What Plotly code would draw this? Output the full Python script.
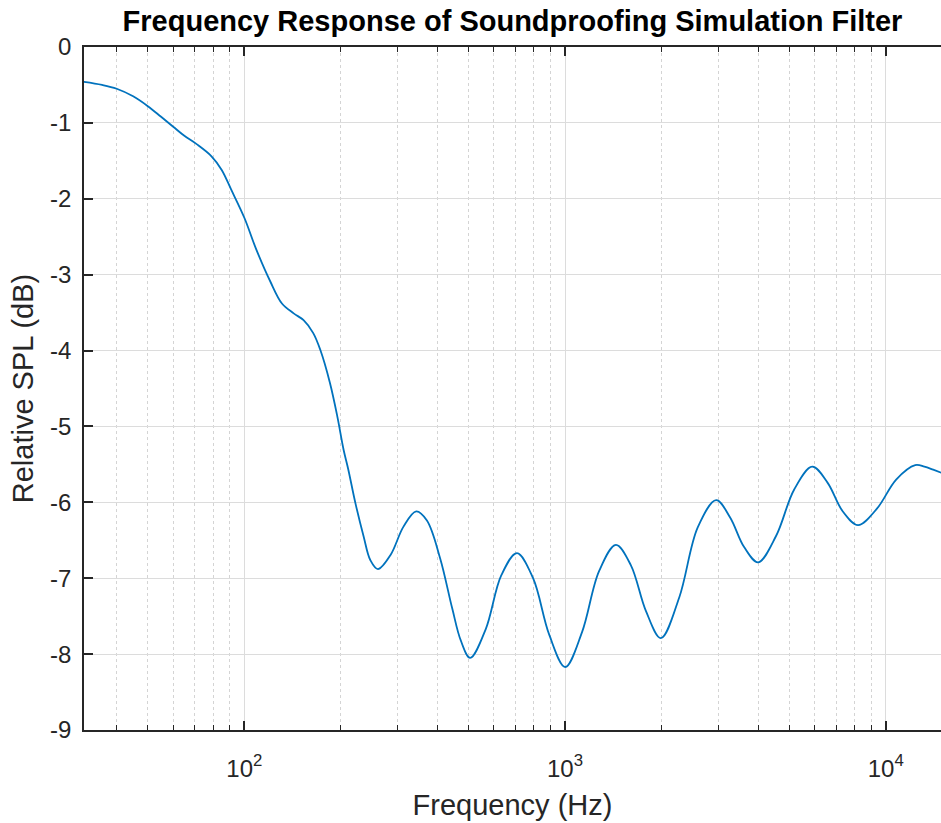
import plotly.graph_objects as go

# Frequency (Hz) and relative SPL (dB)
freq_hz = [31.6, 36, 40, 45, 50, 55, 60, 65, 71, 79, 85, 91, 100,
           109, 120.5, 131, 142.5, 153, 164, 172.5, 185, 195, 204, 211, 222,
           235.5, 247, 261, 286, 313.5, 343.5, 371, 408, 445, 473, 506, 566,
           633, 708, 795, 892, 1001, 1130, 1276, 1441, 1605, 1787, 1990, 2272,
           2593, 2960, 3272, 3618, 4000, 4554, 5184, 5900, 6584, 7349, 8200,
           9402, 10780, 12360, 13200, 14060, 14900]
spl_db = [-0.46, -0.50, -0.55, -0.65, -0.78, -0.92, -1.05, -1.17, -1.28, -1.44,
          -1.62, -1.88, -2.25, -2.67, -3.09, -3.38, -3.51, -3.60, -3.77, -3.99,
          -4.43, -4.87, -5.31, -5.57, -6.01, -6.45, -6.76, -6.88, -6.69, -6.32,
          -6.12, -6.24, -6.74, -7.40, -7.82, -8.05, -7.67, -6.96, -6.67, -7.00,
          -7.74, -8.17, -7.71, -6.91, -6.56, -6.83, -7.43, -7.79, -7.25, -6.33,
          -5.97, -6.20, -6.59, -6.79, -6.44, -5.83, -5.53, -5.74, -6.12, -6.30,
          -6.08, -5.70, -5.51, -5.53, -5.57, -5.61]

y_ticks = [0, -1, -2, -3, -4, -5, -6, -7, -8, -9]
y_ticktext = ["0", "-1", "-2", "-3", "-4", "-5", "-6", "-7", "-8", "-9"]
x_major = [100, 1000, 10000]
x_major_text = ["10<sup>2</sup>", "10<sup>3</sup>", "10<sup>4</sup>"]
x_minor = [40, 50, 60, 70, 80, 90, 200, 300, 400, 500, 600, 700, 800, 900,
           2000, 3000, 4000, 5000, 6000, 7000, 8000, 9000]

FONT = "Liberation Sans, Arial, Helvetica, sans-serif"
AX = "#262626"

fig = go.Figure()
fig.add_trace(go.Scatter(
    x=freq_hz, y=spl_db, mode="lines",
    line=dict(color="#0072BD", width=1.8, shape="spline", smoothing=1.0),
    showlegend=False, hoverinfo="skip"))

fig.update_layout(
    width=941, height=823,
    margin=dict(l=84, r=0, t=47, b=93),
    paper_bgcolor="white", plot_bgcolor="white",
    font=dict(family=FONT, color=AX, size=24),
    title=dict(text="<b>Frequency Response of Soundproofing Simulation Filter</b>",
               x=0.5, xref="paper", xanchor="center",
               y=1 - 21 / 823, yref="container", yanchor="middle",
               font=dict(family=FONT, size=29, color="#000000")),
)

fig.update_xaxes(
    type="log", range=[1.5, 4.1724],
    tickmode="array", tickvals=x_major, ticktext=x_major_text,
    ticks="inside", ticklen=9, tickwidth=1.5, tickcolor=AX,
    showline=True, linecolor=AX, linewidth=1.5, mirror="allticks",
    showgrid=True, gridcolor="#dcdcdc", gridwidth=1,
    zeroline=False,
    ticklabelstandoff=16,
    tickfont=dict(size=24, color=AX),
    minor=dict(tickmode="array", tickvals=x_minor, ticks="inside",
               ticklen=5, tickwidth=1.2, tickcolor=AX,
               showgrid=True, gridcolor="#d4d4d4", griddash="dot", gridwidth=1),
    title=dict(text="Frequency (Hz)", font=dict(size=29, color=AX), standoff=14),
)

fig.update_yaxes(
    range=[-9, 0],
    tickmode="array", tickvals=y_ticks, ticktext=y_ticktext,
    ticks="inside", ticklen=9, tickwidth=1.5, tickcolor=AX,
    showline=True, linecolor=AX, linewidth=1.5, mirror=False,
    showgrid=True, gridcolor="#dcdcdc", gridwidth=1,
    zeroline=False,
    ticklabelstandoff=6,
    tickfont=dict(size=24, color=AX),
    title=dict(text="Relative SPL (dB)", font=dict(size=29, color=AX), standoff=8),
)

fig.write_html("out.html")
